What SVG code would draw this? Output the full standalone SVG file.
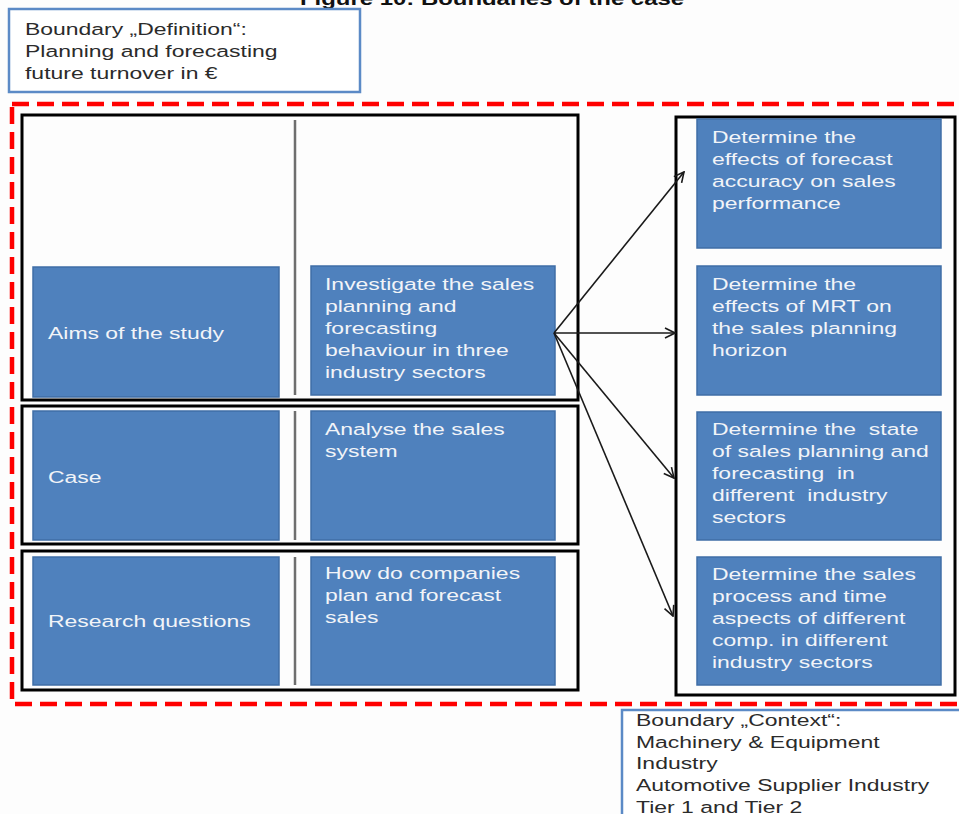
<svg xmlns="http://www.w3.org/2000/svg" width="959" height="814" viewBox="0 0 959 814">
  <defs>
    <style>
      text { font-family: "Liberation Sans", Arial, sans-serif; font-size: 17px; white-space: pre; }
      .dark { fill: #2b2b2b; }
      .light { fill: #f2f4f8; }
      .title { font-size: 18px; font-weight: bold; fill: #111; }
      .blue { fill: #4f81bd; stroke: #3f6ea6; stroke-width: 1.5; }
      .frame { fill: none; stroke: #000; stroke-width: 3; }
      .sep { stroke: #6e6e6e; stroke-width: 2.5; }
      .note { fill: #fff; stroke: #5b8ac6; stroke-width: 2.5; }
      .arrow { fill: none; stroke: #1a1a1a; stroke-width: 1.6; marker-end: url(#head); }
    </style>
    <marker id="head" viewBox="0 0 12 12" refX="11" refY="6" markerWidth="12" markerHeight="12" markerUnits="userSpaceOnUse" orient="auto">
      <path d="M1,1 L11,6 L1,11" fill="none" stroke="#1a1a1a" stroke-width="1.6"/>
    </marker>
  </defs>

  <rect width="959" height="814" fill="#fdfdfd"/>

  <!-- caption, clipped at the top edge -->
  <text class="title" transform="translate(300,5) scale(1.33,1)">Figure 10: Boundaries of the case</text>

  <!-- definition boundary -->
  <g id="boundary-definition">
    <rect class="note" x="9" y="9" width="351" height="83"/>
    <text class="dark" transform="translate(25,35) scale(1.35,1)"><tspan x="0" y="0">Boundary „Definition“:</tspan><tspan x="0" y="22">Planning and forecasting</tspan><tspan x="0" y="44">future turnover in €</tspan></text>
  </g>

  <!-- red dashed scope frame -->
  <g id="scope">
    <rect x="12" y="104" width="960" height="600" fill="none" stroke="#ff0000" stroke-width="4.5" stroke-dasharray="17 8"/>
  </g>

  <!-- row frames -->
  <g id="row-aims">
    <rect class="frame" x="22" y="115" width="556" height="285"/>
    <line class="sep" x1="295" y1="120" x2="295" y2="395"/>
    <rect class="blue" x="33" y="267" width="246" height="130"/>
    <text class="light" transform="translate(48,339) scale(1.35,1)">Aims of the study</text>
  </g>
  <g id="aim-investigate">
    <rect class="blue" x="311" y="266" width="244" height="129"/>
    <text class="light" transform="translate(325,290) scale(1.35,1)"><tspan x="0" y="0">Investigate the sales</tspan><tspan x="0" y="22">planning and</tspan><tspan x="0" y="44">forecasting</tspan><tspan x="0" y="66">behaviour in three</tspan><tspan x="0" y="88">industry sectors</tspan></text>
  </g>

  <g id="row-case">
    <rect class="frame" x="22" y="406" width="556" height="138"/>
    <line class="sep" x1="295" y1="411" x2="295" y2="540"/>
    <rect class="blue" x="33" y="411" width="246" height="129"/>
    <text class="light" transform="translate(48,483) scale(1.35,1)">Case</text>
  </g>
  <g id="case-analyse">
    <rect class="blue" x="311" y="411" width="244" height="129"/>
    <text class="light" transform="translate(325,435) scale(1.35,1)"><tspan x="0" y="0">Analyse the sales</tspan><tspan x="0" y="22">system</tspan></text>
  </g>

  <g id="row-questions">
    <rect class="frame" x="22" y="551" width="556" height="139"/>
    <line class="sep" x1="295" y1="557" x2="295" y2="685"/>
    <rect class="blue" x="33" y="557" width="246" height="128"/>
    <text class="light" transform="translate(48,627) scale(1.35,1)">Research questions</text>
  </g>
  <g id="question-how">
    <rect class="blue" x="311" y="557" width="244" height="128"/>
    <text class="light" transform="translate(325,579) scale(1.35,1)"><tspan x="0" y="0">How do companies</tspan><tspan x="0" y="22">plan and forecast</tspan><tspan x="0" y="44">sales</tspan></text>
  </g>

  <!-- objectives column -->
  <g id="objectives">
    <rect class="frame" x="676" y="117" width="279" height="578"/>
  </g>
  <g id="obj-accuracy">
    <rect class="blue" x="697" y="119" width="244" height="129"/>
    <text class="light" transform="translate(712,143) scale(1.35,1)"><tspan x="0" y="0">Determine the</tspan><tspan x="0" y="22">effects of forecast</tspan><tspan x="0" y="44">accuracy on sales</tspan><tspan x="0" y="66">performance</tspan></text>
  </g>
  <g id="obj-mrt">
    <rect class="blue" x="697" y="266" width="244" height="129"/>
    <text class="light" transform="translate(712,290) scale(1.35,1)"><tspan x="0" y="0">Determine the</tspan><tspan x="0" y="22">effects of MRT on</tspan><tspan x="0" y="44">the sales planning</tspan><tspan x="0" y="66">horizon</tspan></text>
  </g>
  <g id="obj-state">
    <rect class="blue" x="697" y="412" width="244" height="128"/>
    <text class="light" transform="translate(712,435) scale(1.35,1)"><tspan x="0" y="0">Determine the  state</tspan><tspan x="0" y="22">of sales planning and</tspan><tspan x="0" y="44">forecasting  in</tspan><tspan x="0" y="66">different  industry</tspan><tspan x="0" y="88">sectors</tspan></text>
  </g>
  <g id="obj-process">
    <rect class="blue" x="697" y="557" width="244" height="128"/>
    <text class="light" transform="translate(712,580) scale(1.35,1)"><tspan x="0" y="0">Determine the sales</tspan><tspan x="0" y="22">process and time</tspan><tspan x="0" y="44">aspects of different</tspan><tspan x="0" y="66">comp. in different</tspan><tspan x="0" y="88">industry sectors</tspan></text>
  </g>

  <!-- connectors -->
  <g id="connectors">
    <line class="arrow" x1="554" y1="333" x2="684" y2="172"/>
    <line class="arrow" x1="554" y1="333" x2="675" y2="333"/>
    <line class="arrow" x1="554" y1="333" x2="674" y2="478"/>
    <line class="arrow" x1="554" y1="333" x2="673" y2="616"/>
  </g>

  <!-- context boundary -->
  <g id="boundary-context">
    <rect class="note" x="622" y="710" width="350" height="120"/>
    <text class="dark" transform="translate(636,726) scale(1.35,1)"><tspan x="0" y="0">Boundary „Context“:</tspan><tspan x="0" y="21.7">Machinery &amp; Equipment</tspan><tspan x="0" y="43.4">Industry</tspan><tspan x="0" y="65.1">Automotive Supplier Industry</tspan><tspan x="0" y="86.8">Tier 1 and Tier 2</tspan></text>
  </g>
</svg>
